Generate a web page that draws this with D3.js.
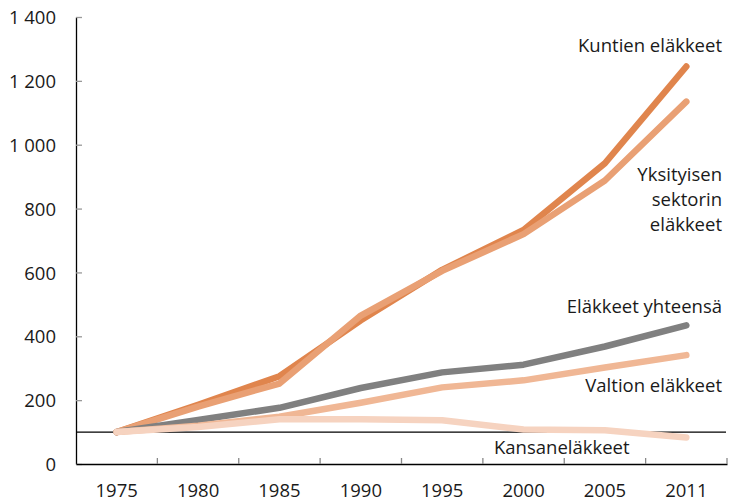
<!DOCTYPE html>
<html>
<head>
<meta charset="utf-8">
<script src="https://cdn.jsdelivr.net/npm/d3@7"></script>
<style>
  body { margin: 0; background: #fff; }
  svg { display: block; font-family: "Open Sans", sans-serif; }
</style>
</head>
<body>
<svg width="729" height="501"></svg>
<script>
// indeksi, 1975 = 100
const years = ['1975', '1980', '1985', '1990', '1995', '2000', '2005', '2011'];
const kuntien = [100, 185, 275, 450, 608, 733, 942, 1245];
const yksityisen = [100, 180, 252, 465, 605, 720, 888, 1135];
const yhteensa = [100, 138, 176, 238, 287, 311, 368, 434];
const valtion = [100, 120, 148, 192, 240, 262, 302, 341];
const kansan = [100, 116, 140, 140, 137, 108, 106, 83];
const yTicks = [0, 200, 400, 600, 800, 1000, 1200, 1400];

const fontSize = 18.5;
const svg = d3.select('svg');

const x = d3.scaleBand().domain(years).range([76, 727]);
const y = d3.scaleLinear().domain([0, 1400]).range([464, 17]);

const fi = d3.formatLocale({ decimal: ',', thousands: '\u00a0', grouping: [3], currency: ['', ''] });
const fmt = fi.format(',');

// y axis, ticks inside
const yAxis = svg.append('g')
  .attr('transform', 'translate(76,0)')
  .call(d3.axisLeft(y).tickValues(yTicks).tickFormat(fmt).tickSizeInner(-6).tickSizeOuter(0).tickPadding(20));
yAxis.select('.domain').attr('stroke', '#000').attr('stroke-width', 1.3);
yAxis.selectAll('.tick line').attr('stroke', '#999').attr('stroke-width', 1.3);
yAxis.selectAll('.tick text').attr('font-size', fontSize).attr('fill', '#1a1a1a')
  .attr('font-family', '"Open Sans", sans-serif').attr('dy', '0.36em');

// x axis, labels at band centres
const xAxis = svg.append('g')
  .attr('transform', 'translate(0,464)')
  .call(d3.axisBottom(x).tickSize(0));
xAxis.select('.domain').attr('stroke', '#000').attr('stroke-width', 1.3);
xAxis.selectAll('.tick text').attr('font-size', fontSize).attr('fill', '#1a1a1a')
  .attr('font-family', '"Open Sans", sans-serif').attr('y', 33).attr('dy', null);

// tick marks between the bands
svg.append('g').selectAll('line')
  .data(years.slice(1).concat(['end']))
  .join('line')
  .attr('x1', (d, i) => x(years[0]) + x.step() * (i + 1))
  .attr('x2', (d, i) => x(years[0]) + x.step() * (i + 1))
  .attr('y1', y(0))
  .attr('y2', y(0) - 6)
  .attr('stroke', '#888')
  .attr('stroke-width', 1.3);

// base line at 100
svg.append('line')
  .attr('x1', x.range()[0]).attr('x2', x.range()[1] - 1)
  .attr('y1', y(100)).attr('y2', y(100))
  .attr('stroke', '#000').attr('stroke-width', 1.2);

const series = [
  { values: kuntien, color: '#e0854d' },
  { values: yksityisen, color: '#e9a074' },
  { values: yhteensa, color: '#808080' },
  { values: valtion, color: '#f0b795' },
  { values: kansan, color: '#f6d3c0' }
];

const line = d3.line()
  .x((d, i) => x(years[i]) + x.bandwidth() / 2)
  .y(d => y(d));

svg.append('g').selectAll('path')
  .data(series)
  .join('path')
  .attr('d', d => line(d.values))
  .attr('fill', 'none')
  .attr('stroke', d => d.color)
  .attr('stroke-width', 6.5)
  .attr('stroke-linecap', 'round')
  .attr('stroke-linejoin', 'round');

// labels
const labels = [
  { lines: ['Kuntien eläkkeet'], x: 722, y: 52, anchor: 'end' },
  { lines: ['Yksityisen', 'sektorin', 'eläkkeet'], x: 722, y: 181, anchor: 'end' },
  { lines: ['Eläkkeet yhteensä'], x: 722, y: 313, anchor: 'end' },
  { lines: ['Valtion eläkkeet'], x: 722, y: 392, anchor: 'end' },
  { lines: ['Kansaneläkkeet'], x: 494, y: 454, anchor: 'start' }
];

const lab = svg.append('g').selectAll('text')
  .data(labels)
  .join('text')
  .attr('x', d => d.x)
  .attr('y', d => d.y)
  .attr('text-anchor', d => d.anchor)
  .attr('font-size', fontSize)
  .attr('fill', '#1a1a1a');

lab.selectAll('tspan')
  .data(d => d.lines.map(t => ({ t, x: d.x })))
  .join('tspan')
  .attr('x', d => d.x)
  .attr('dy', (d, i) => i === 0 ? 0 : 25)
  .text(d => d.t);
</script>
</body>
</html>
